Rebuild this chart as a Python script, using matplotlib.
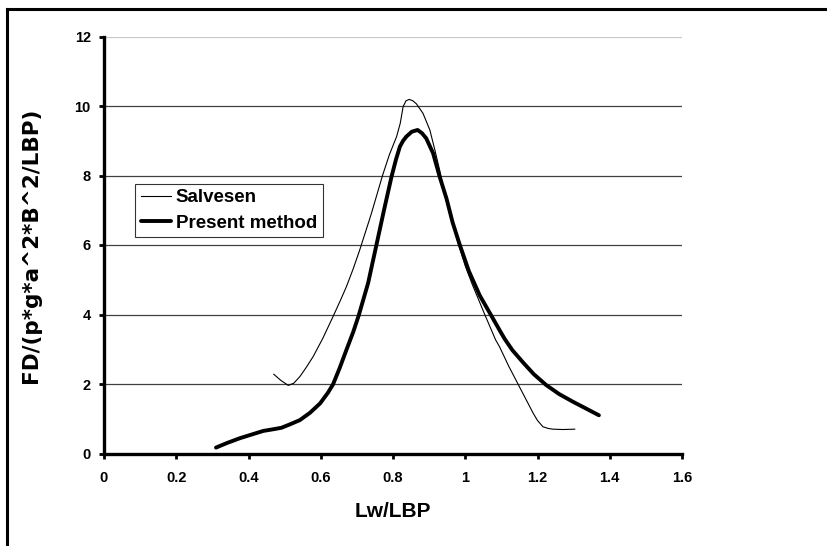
import numpy as np
import matplotlib
matplotlib.use("Agg")
import matplotlib.pyplot as plt
from matplotlib.lines import Line2D

# values
salvesen_x = [0.470, 0.490, 0.510, 0.525, 0.542, 0.560, 0.579, 0.605, 0.634, 0.655,
              0.671, 0.690, 0.708, 0.740, 0.771, 0.790, 0.810, 0.820, 0.828, 0.836,
              0.845, 0.855, 0.865, 0.883, 0.902, 0.916, 0.929, 0.943, 0.960, 0.982,
              1.000, 1.020, 1.054, 1.084, 1.095, 1.120, 1.146, 1.170, 1.188, 1.200,
              1.215, 1.230, 1.243, 1.270, 1.303]
salvesen_y = [2.28, 2.10, 1.96, 2.02, 2.21, 2.48, 2.79, 3.30, 3.94, 4.42,
              4.80, 5.32, 5.86, 6.90, 8.00, 8.60, 9.12, 9.50, 9.98, 10.15,
              10.19, 10.15, 10.06, 9.79, 9.31, 8.73, 8.16, 7.49, 6.75, 6.00,
              5.40, 4.85, 4.00, 3.27, 3.07, 2.52, 2.00, 1.52, 1.16, 0.95,
              0.77, 0.72, 0.70, 0.69, 0.70]

present_x = [0.310, 0.340, 0.376, 0.410, 0.441, 0.470, 0.491, 0.515, 0.542, 0.570,
             0.598, 0.620, 0.634, 0.652, 0.671, 0.690, 0.705, 0.731, 0.752, 0.775,
             0.796, 0.808, 0.819, 0.828, 0.837, 0.852, 0.868, 0.880, 0.892, 0.911,
             0.929, 0.948, 0.965, 0.985, 1.010, 1.040, 1.072, 1.095, 1.109, 1.130,
             1.160, 1.190, 1.224, 1.260, 1.298, 1.335, 1.370]
present_y = [0.17, 0.30, 0.44, 0.55, 0.65, 0.70, 0.74, 0.84, 0.96, 1.17,
             1.44, 1.75, 1.99, 2.45, 2.98, 3.50, 3.97, 4.90, 5.90, 7.00,
             7.97, 8.45, 8.83, 9.00, 9.12, 9.26, 9.31, 9.22, 9.07, 8.64,
             7.97, 7.34, 6.65, 6.00, 5.25, 4.55, 3.97, 3.55, 3.30, 2.98,
             2.62, 2.28, 1.97, 1.71, 1.49, 1.29, 1.10]

x_ticks = [0, 0.2, 0.4, 0.6, 0.8, 1, 1.2, 1.4, 1.6]
x_tick_labels = ["0", "0.2", "0.4", "0.6", "0.8", "1", "1.2", "1.4", "1.6"]
y_ticks = [0, 2, 4, 6, 8, 10, 12]

plt.rcParams["font.family"] = ["Liberation Sans", "DejaVu Sans"]
plt.rcParams["font.weight"] = "bold"

fig = plt.figure(figsize=(8.27, 5.46), dpi=100)
ax = fig.add_axes([104 / 827, 1 - 453.5 / 546, 578 / 827, 417 / 546])

# horizontal gridlines, top one lighter as in the reference
for yv in y_ticks[1:]:
    col = "#c8c8c8" if yv == y_ticks[-1] else "#404040"
    ax.axhline(yv, color=col, lw=0.9, zorder=1)

ax.plot(salvesen_x, salvesen_y, color="black", lw=0.8, label="Salvesen", zorder=3)
ax.plot(present_x, present_y, color="black", lw=2.8, label="Present method",
        solid_capstyle="round", zorder=3)

ax.set_xlim(0, 1.6)
ax.set_ylim(0, 12)
ax.set_xticks(x_ticks)
ax.set_xticklabels(x_tick_labels)
ax.set_yticks(y_ticks)

for side in ["top", "right"]:
    ax.spines[side].set_visible(False)
for side in ["left", "bottom"]:
    ax.spines[side].set_linewidth(2.4)
ax.tick_params(direction="out", length=3.5, width=2.0, labelsize=10.5)
ax.tick_params(axis="x", pad=9)
ax.tick_params(axis="y", pad=6)

ax.set_xlabel("Lw/LBP", fontsize=15, fontweight="bold", labelpad=12)
ax.set_ylabel("FD/(p*g*a^2*B^2/LBP)", fontsize=15.5, fontweight="bold",
              family="DejaVu Sans", labelpad=24)

leg = ax.legend(loc="upper left", bbox_to_anchor=(31 / 578, 1 - 147 / 417),
                fontsize=13.5, frameon=True, fancybox=False, handlelength=1.6,
                handletextpad=0.27, borderpad=0.3, labelspacing=0.45,
                borderaxespad=0)
leg.get_frame().set_edgecolor("black")
leg.get_frame().set_linewidth(0.8)

# figure border: only top and left edges are visible in the picture
fig.add_artist(Line2D([6.5 / 827, 6.5 / 827], [0, 1 - 9 / 546], color="black", lw=2.2))
fig.add_artist(Line2D([6.5 / 827, 1], [1 - 9 / 546, 1 - 9 / 546], color="black", lw=2.2))

fig.savefig("out.png", dpi=100)
